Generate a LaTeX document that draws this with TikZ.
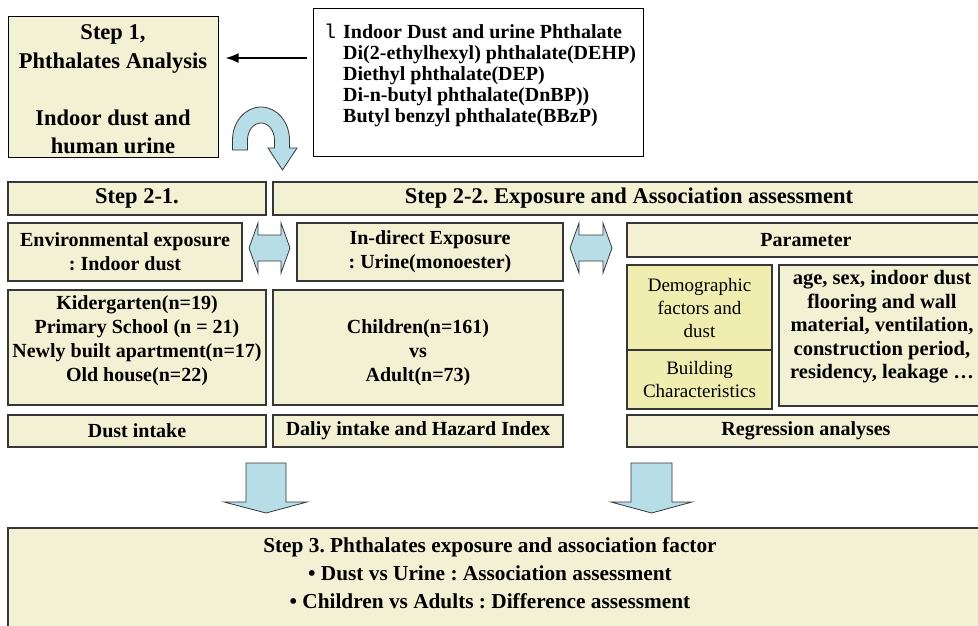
\documentclass[tikz,border=0pt]{standalone}
\usepackage{fontspec}
\setmainfont{Liberation Serif}
\setmonofont{Liberation Mono}
\usetikzlibrary{arrows.meta}
\definecolor{boxfill}{RGB}{243,241,212}
\definecolor{demofill}{RGB}{239,237,176}
\definecolor{arrowblue}{RGB}{183,222,230}
\definecolor{edgecol}{RGB}{55,55,55}
\frenchspacing
\begin{document}
\begin{tikzpicture}[x=1pt,y=-1pt,
  box/.style={draw=edgecol, line width=1.1pt, fill=boxfill, rectangle, inner sep=1pt, align=center,
    font=\fontsize{20}{24}\selectfont\bfseries},
  headbox/.style={box, font=\fontsize{22.5}{27}\selectfont\bfseries},
  demobox/.style={box, fill=demofill, font=\fontsize{19}{23}\selectfont},
  txt/.style={inner sep=0pt, align=center, font=\fontsize{20}{24}\selectfont\bfseries},
  bluearrow/.style={fill=arrowblue, draw=edgecol, line width=0.8pt, line join=miter},
]
\useasboundingbox (0,0) rectangle (978,625);

% Step 1
\node[draw=black, line width=1pt, fill=boxfill, minimum width=210pt, minimum height=141pt, inner sep=0pt] (step1) at (113,86.5) {};
\node[txt, font=\fontsize{22.5}{28.5}\selectfont\bfseries] (step1txt) at (113,89.5)
  {Step 1,\\Phthalates Analysis\\[28.5pt]Indoor dust and\\human urine};

% list box
\node[draw=black, line width=1pt, fill=white, minimum width=330pt, minimum height=148pt, inner sep=0pt] (list) at (478,82) {};
\node[inner sep=0pt, align=left, anchor=west, font=\fontsize{20}{21}\selectfont\bfseries] (listtxt) at (324,75)
  {\makebox[19pt][l]{\mdseries\ttfamily l}Indoor Dust and urine Phthalate\\
   \hspace*{19pt}Di(2-ethylhexyl) phthalate(DEHP)\\
   \hspace*{19pt}Diethyl phthalate(DEP)\\
   \hspace*{19pt}Di-n-butyl phthalate(DnBP))\\
   \hspace*{19pt}Butyl benzyl phthalate(BBzP)};

\coordinate (ay) at (0,58);
\draw[line width=1.8pt, -{Latex[length=13pt,width=10pt]}, shorten <=6pt, shorten >=7pt] (list.west |- ay) -- (step1.east |- ay);

% curved arrow
\draw[bluearrow] (232.5,150) -- (232.5,140)
  .. controls (232.5,121.8) and (245.3,107) .. (261,107)
  .. controls (276.7,107) and (289.5,121.8) .. (289.5,140)
  -- (289.5,148) -- (297,148) -- (282.5,170) -- (268,148) -- (274.5,148) -- (274.5,140)
  .. controls (274.5,130.6) and (268.5,123) .. (261,123)
  .. controls (253.5,123) and (247.5,130.6) .. (247.5,140)
  -- (247.5,150) -- cycle;

% Step 2 headers
\node[headbox, minimum width=258pt, minimum height=33pt] (s21) at (137,198.5) {Step 2-1.};
\node[headbox, minimum width=712pt, minimum height=33pt] (s22) at (629,198.5) {Step 2-2. Exposure and Association assessment};

% row 2
\node[box, minimum width=234pt, minimum height=58pt] (env) at (125,252) {Environmental exposure\\: Indoor dust};
\node[box, minimum width=266pt, minimum height=58pt] (indir) at (430,252) {In-direct Exposure\\: Urine(monoester)};
\node[box, minimum width=358pt, minimum height=34pt] (param) at (806,240) {Parameter};

% double arrows
\draw[bluearrow] (249,248) -- (258,223) -- (258,235) -- (281,235) -- (281,223) -- (290,248)
  -- (281,273) -- (281,261) -- (258,261) -- (258,273) -- cycle;
\draw[bluearrow] (570,248) -- (579,223) -- (579,235) -- (603,235) -- (603,223) -- (612,248)
  -- (603,273) -- (603,261) -- (579,261) -- (579,273) -- cycle;

% row 3
\node[box, minimum width=258pt, minimum height=115pt] (kid) at (137,347.5) {};
\node[txt] (kidtxt) at (137,341) {Kidergarten(n=19)\\Primary School (n = 21)\\Newly built apartment(n=17)\\Old house(n=22)};
\node[box, minimum width=290pt, minimum height=115pt] (child) at (418,347.5) {};
\node[txt] (childtxt) at (418,353) {Children(n=161)\\vs\\Adult(n=73)};
\node[demobox, minimum width=145pt, minimum height=85pt] (demo) at (699.5,307.5) {Demographic\\factors and\\dust};
\node[demobox, minimum width=145pt, minimum height=59pt] (build) at (699.5,379.5) {Building\\Characteristics};
\node[box, minimum width=206pt, minimum height=141pt] (age) at (882,335.5) {};
\node[txt, font=\fontsize{20.5}{23.5}\selectfont\bfseries] (agetxt) at (882,327)
  {age, sex, indoor dust\\flooring and wall\\material, ventilation,\\construction period,\\residency, leakage \dots};

% row 4
\node[box, minimum width=258pt, minimum height=32pt] (dust) at (137,431) {Dust intake};
\node[box, minimum width=290pt, minimum height=32pt] (daily) at (418,431) {Daliy intake and Hazard Index};
\node[box, minimum width=358pt, minimum height=32pt] (regr) at (806,431) {Regression analyses};

% down arrows
\draw[bluearrow] (246,463) -- (286,463) -- (286,502) -- (307,502) -- (266,513) -- (224,502) -- (246,502) -- cycle;
\draw[bluearrow] (631,463) -- (672,463) -- (672,502) -- (692,502) -- (651.5,513) -- (611,502) -- (631,502) -- cycle;

% Step 3
\node[box, minimum width=977pt, minimum height=112pt] (s3) at (496.5,584) {};
\node[txt, font=\fontsize{21.3}{28}\selectfont\bfseries] (s3txt) at (490,573)
  {Step 3. Phthalates exposure and association factor\\
   \textbullet\ Dust vs Urine : Association assessment\\
   \textbullet\ Children vs Adults : Difference assessment};
\end{tikzpicture}
\end{document}
